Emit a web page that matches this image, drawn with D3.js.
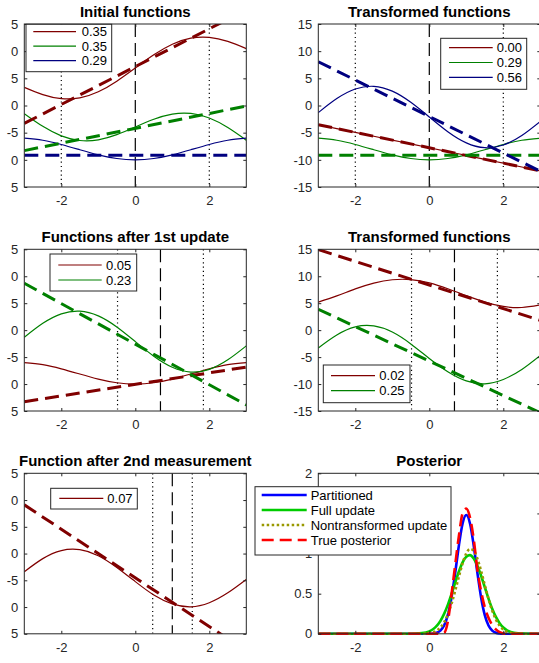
<!DOCTYPE html>
<html>
<head>
<meta charset="utf-8">
<script src="https://cdn.jsdelivr.net/npm/d3@7"></script>
<style>
body { margin: 0; background: #fff; }
svg { display: block; }
</style>
</head>
<body>
<script>
// sample grid for the function curves
var xGrid = [-3, -2.5, -2, -1.5, -1, -0.5, 0, 0.5, 1, 1.5, 2, 2.5, 3];
var lineX = [-3, 3];

// Initial functions
var initRed = [3.34, 2.01, 1.26, 1.41, 2.53, 4.48, 6.90, 9.32, 11.27, 12.39, 12.54, 11.79, 10.46];
var initGreen = [-1.51, -3.84, -5.59, -6.44, -6.32, -5.37, -3.95, -2.53, -1.58, -1.46, -2.31, -4.06, -6.39];
var initBlue = [-6.02, -6.40, -7.17, -8.14, -9.08, -9.76, -10.00, -9.76, -9.08, -8.14, -7.17, -6.40, -6.02];
var initRedLin = [-3.29, 17.6];
var initGreenLin = [-8.3, -0.1];
var initBlueLin = [-9.15, -9.15];
var initMean = 0;
var initBounds = [-2, 2];
var initLegend = ["0.35", "0.35", "0.29"];

// Transformed functions
var transRed = [-3.54, -4.25, -4.95, -5.66, -6.37, -7.07, -7.78, -8.49, -9.19, -9.90, -10.61, -11.32, -12.02];
var transGreen = [-6.02, -6.40, -7.17, -8.14, -9.08, -9.76, -10.00, -9.76, -9.08, -8.14, -7.17, -6.40, -6.02];
var transBlue = [-1.32, 1.27, 3.03, 3.53, 2.64, 0.59, -2.12, -4.83, -6.88, -7.77, -7.27, -5.51, -2.92];
var transRedLin = [-3.54, -12.02];
var transGreenLin = [-9.15, -9.15];
var transBlueLin = [8.05, -12.1];
var transLegend = ["0.00", "0.29", "0.56"];

// Functions after 1st update
var upd1Red = [-6.02, -6.40, -7.17, -8.14, -9.08, -9.76, -10.00, -9.76, -9.08, -8.14, -7.17, -6.40, -6.02];
var upd1Green = [-1.32, 1.27, 3.03, 3.53, 2.64, 0.59, -2.12, -4.83, -6.88, -7.77, -7.27, -5.51, -2.92];
var upd1RedLin = [-13.27, -6.85];
var upd1GreenLin = [8.69, -13.88];
var upd1Mean = 0.68;
var upd1Bounds = [-0.48, 1.84];
var upd1Legend = ["0.05", "0.23"];

// Transformed functions (after 1st update)
var trans1Red = [5.2, 6.35, 7.65, 8.72, 9.35, 9.38, 8.78, 7.68, 6.4, 5.2, 4.4, 4.2, 4.68];
var trans1Green = [-3.3, -0.9, 0.6, 0.78, -0.35, -2.55, -5.25, -7.7, -9.4, -9.95, -9.15, -7.3, -4.7];
var trans1RedLin = [14.95, 1.81];
var trans1GreenLin = [3.87, -15.33];
var trans1Legend = ["0.02", "0.25"];

// Function after 2nd measurement
var upd2Red = [-3.4, -0.95, 0.55, 0.72, -0.4, -2.6, -5.25, -7.75, -9.4, -9.95, -9.2, -7.35, -4.85];
var upd2RedLin = [9.1, -18.2];
var upd2Mean = 1.0;
var upd2Bounds = [0.47, 1.54];
var upd2Legend = ["0.07"];

// Posterior
var postX = [-3, -1, -0.5, -0.2, 0, 0.1, 0.2, 0.3, 0.4, 0.5, 0.6, 0.7, 0.8, 0.9, 1.0,
             1.1, 1.2, 1.3, 1.4, 1.5, 1.6, 1.7, 1.8, 1.9, 2.0, 2.1, 2.2, 2.4, 2.7, 3];
var postPartitioned = [0, 0, 0, 0, 0.001, 0.004, 0.013, 0.040, 0.103, 0.233, 0.453, 0.760, 1.101, 1.375, 1.48,
                       1.375, 1.101, 0.760, 0.453, 0.233, 0.103, 0.040, 0.013, 0.004, 0.001, 0, 0, 0, 0, 0];
var postFull = [0, 0, 0.001, 0.008, 0.030, 0.056, 0.098, 0.160, 0.248, 0.360, 0.494, 0.638, 0.776, 0.890, 0.961,
                0.98, 0.939, 0.849, 0.723, 0.580, 0.439, 0.312, 0.210, 0.133, 0.079, 0.044, 0.023, 0.006, 0, 0];
var postNontrans = [0, 0, 0, 0.001, 0.008, 0.019, 0.040, 0.079, 0.143, 0.241, 0.373, 0.537, 0.714, 0.879, 1.003,
                    1.058, 1.034, 0.935, 0.783, 0.607, 0.436, 0.289, 0.178, 0.101, 0.053, 0.026, 0.012, 0.002, 0, 0];
var postTrue = [0, 0, 0, 0, 0, 0, 0, 0, 0.01, 0.15, 0.49, 0.86, 1.22, 1.50, 1.56,
                1.45, 1.18, 0.80, 0.53, 0.33, 0.20, 0.11, 0.055, 0.02, 0.005, 0, 0, 0, 0, 0];
var postLegend = ["Partitioned", "Full update", "Nontransformed update", "True posterior"];

// ticks
var xTicks = [-2, 0, 2];
var funcYTicks = [-15, -10, -5, 0, 5, 10, 15];
var leftYTickLabels = ["5", "0", "-5", "0", "5", "0", "5"];
var rightYTickLabels = ["-15", "-10", "-5", "0", "5", "10", "15"];
var postYTicks = [0, 0.5, 1, 1.5, 2];
var postYTickLabels = ["0", "0.5", "1", "1.5", "2"];

var font = "'Liberation Sans', Arial, Helvetica, sans-serif";
var axisColor = "#262626";
var dkRed = "#800000", dkGreen = "#008000", dkBlue = "#000080";

var cols = [{ x: 24.3, w: 222 }, { x: 318.3, w: 222 }];
var rows = [{ y: 24, h: 163 }, { y: 249.3, h: 161.7 }, { y: 473.3, h: 160.5 }];

var svg = d3.select("body").append("svg")
    .attr("width", 539)
    .attr("height", 663)
    .style("font-family", font);

var drawAxes = function (g, x, y, yTicks, yLabels) {
    var left = x.range()[0], right = x.range()[1];
    var bottom = y.range()[0], top = y.range()[1];

    var axes = g.append("g");
    axes.append("g").attr("transform", "translate(" + left + ",0)")
        .call(d3.axisLeft(y).tickValues(yTicks).tickSize(-3).tickPadding(6)
            .tickFormat(function (d, i) { return yLabels[i]; }));
    axes.append("g").attr("transform", "translate(" + right + ",0)")
        .call(d3.axisRight(y).tickValues(yTicks).tickSize(-3).tickFormat(""));
    axes.append("g").attr("transform", "translate(0," + bottom + ")")
        .call(d3.axisBottom(x).tickValues(xTicks).tickSize(-3).tickPadding(9)
            .tickFormat(function (d) { return String(d); }));
    axes.append("g").attr("transform", "translate(0," + top + ")")
        .call(d3.axisTop(x).tickValues(xTicks).tickSize(-3).tickFormat(""));
    axes.selectAll(".domain").remove();
    axes.selectAll(".tick line").attr("stroke", axisColor);
    // d3 puts its own font on each axis group, so set it again here
    axes.selectAll("g").attr("font-family", font).attr("font-size", 13);
    axes.selectAll(".tick text").attr("fill", axisColor);

    axes.append("rect")
        .attr("x", left).attr("y", top)
        .attr("width", right - left).attr("height", bottom - top)
        .attr("fill", "none")
        .attr("stroke", axisColor)
        .attr("stroke-width", 1);
}

var drawTitle = function (x, y, text) {
    svg.append("text")
        .attr("x", (x.range()[0] + x.range()[1]) / 2)
        .attr("y", y.range()[1] - 7)
        .attr("text-anchor", "middle")
        .attr("font-size", 15)
        .attr("font-weight", "bold")
        .attr("fill", "#000")
        .text(text);
}

var drawLegend = function (lg) {
    var g = svg.append("g");
    g.append("rect")
        .attr("x", lg.x).attr("y", lg.y)
        .attr("width", lg.w).attr("height", lg.h)
        .attr("fill", "#fff")
        .attr("stroke", axisColor)
        .attr("stroke-width", 1);
    lg.items.forEach(function (item, i) {
        var yy = lg.y + lg.first + i * lg.step;
        g.append("line")
            .attr("x1", lg.x + lg.line[0]).attr("x2", lg.x + lg.line[1])
            .attr("y1", yy).attr("y2", yy)
            .attr("stroke", item.color)
            .attr("stroke-width", item.width || 1.2)
            .attr("stroke-dasharray", item.dash || null);
        g.append("text")
            .attr("x", lg.x + lg.textX)
            .attr("y", yy)
            .attr("dy", "0.35em")
            .attr("font-size", 13)
            .attr("fill", "#000")
            .text(item.label);
    });
}

var funcLine = function (x, y) {
    return d3.line()
        .x(function (d) { return x(d[0]); })
        .y(function (d) { return y(d[1]); })
        .curve(d3.curveNatural);
}

var drawFunctionPanel = function (cfg, idx) {
    var col = cols[cfg.col], row = rows[cfg.row];
    var x = d3.scaleLinear().domain([-3, 3]).range([col.x, col.x + col.w]);
    var y = d3.scaleLinear().domain([-15, 15]).range([row.y + row.h, row.y]);

    svg.append("clipPath").attr("id", "clip" + idx)
        .append("rect")
        .attr("x", col.x).attr("y", row.y)
        .attr("width", col.w).attr("height", row.h);

    var g = svg.append("g");
    var plot = g.append("g").attr("clip-path", "url(#clip" + idx + ")");

    // mean (dashed) and bounds (dotted)
    plot.append("line")
        .attr("x1", x(cfg.mean)).attr("x2", x(cfg.mean))
        .attr("y1", y(15)).attr("y2", y(-15))
        .attr("stroke", "#000").attr("stroke-width", 1.2)
        .attr("stroke-dasharray", "13,6");
    cfg.bounds.forEach(function (b) {
        plot.append("line")
            .attr("x1", x(b)).attr("x2", x(b))
            .attr("y1", y(15)).attr("y2", y(-15))
            .attr("stroke", "#000").attr("stroke-width", 1.2)
            .attr("stroke-dasharray", "1.2,3.1");
    });

    var line = funcLine(x, y);
    cfg.curves.forEach(function (c) {
        plot.append("path")
            .datum(xGrid.map(function (xv, i) { return [xv, c.values[i]]; }))
            .attr("d", line)
            .attr("fill", "none")
            .attr("stroke", c.color)
            .attr("stroke-width", 1.2);
    });
    cfg.lins.forEach(function (c) {
        plot.append("path")
            .datum(lineX.map(function (xv, i) { return [xv, c.values[i]]; }))
            .attr("d", d3.line().x(function (d) { return x(d[0]); }).y(function (d) { return y(d[1]); }))
            .attr("fill", "none")
            .attr("stroke", c.color)
            .attr("stroke-width", 3)
            .attr("stroke-dasharray", "14,7");
    });

    drawAxes(g, x, y, funcYTicks, cfg.col === 0 ? leftYTickLabels : rightYTickLabels);
    drawTitle(x, y, cfg.title);
}

var functionPanels = [
    {
        col: 0, row: 0, title: "Initial functions",
        curves: [{ values: initRed, color: dkRed }, { values: initGreen, color: dkGreen }, { values: initBlue, color: dkBlue }],
        lins: [{ values: initRedLin, color: dkRed }, { values: initGreenLin, color: dkGreen }, { values: initBlueLin, color: dkBlue }],
        mean: initMean, bounds: initBounds
    },
    {
        col: 1, row: 0, title: "Transformed functions",
        curves: [{ values: transRed, color: dkRed }, { values: transGreen, color: dkGreen }, { values: transBlue, color: dkBlue }],
        lins: [{ values: transRedLin, color: dkRed }, { values: transGreenLin, color: dkGreen }, { values: transBlueLin, color: dkBlue }],
        mean: initMean, bounds: initBounds
    },
    {
        col: 0, row: 1, title: "Functions after 1st update",
        curves: [{ values: upd1Red, color: dkRed }, { values: upd1Green, color: dkGreen }],
        lins: [{ values: upd1RedLin, color: dkRed }, { values: upd1GreenLin, color: dkGreen }],
        mean: upd1Mean, bounds: upd1Bounds
    },
    {
        col: 1, row: 1, title: "Transformed functions",
        curves: [{ values: trans1Red, color: dkRed }, { values: trans1Green, color: dkGreen }],
        lins: [{ values: trans1RedLin, color: dkRed }, { values: trans1GreenLin, color: dkGreen }],
        mean: upd1Mean, bounds: upd1Bounds
    },
    {
        col: 0, row: 2, title: "Function after 2nd measurement",
        curves: [{ values: upd2Red, color: dkRed }],
        lins: [{ values: upd2RedLin, color: dkRed }],
        mean: upd2Mean, bounds: upd2Bounds
    }
];

functionPanels.forEach(drawFunctionPanel);

// posterior panel
(function () {
    var col = cols[1], row = rows[2];
    var x = d3.scaleLinear().domain([-3, 3]).range([col.x, col.x + col.w]);
    var y = d3.scaleLinear().domain([0, 2]).range([row.y + row.h, row.y]);

    svg.append("clipPath").attr("id", "clipPost")
        .append("rect")
        .attr("x", col.x).attr("y", row.y - 2)
        .attr("width", col.w).attr("height", row.h + 4);

    var g = svg.append("g");
    var plot = g.append("g").attr("clip-path", "url(#clipPost)");
    var line = d3.line()
        .x(function (d) { return x(d[0]); })
        .y(function (d) { return y(d[1]); })
        .curve(d3.curveMonotoneX);

    var series = [
        { values: postPartitioned, color: "#0000ff", dash: null },
        { values: postFull, color: "#00cc00", dash: null },
        { values: postNontrans, color: "#999900", dash: "2.5,2.5" },
        { values: postTrue, color: "#ff0000", dash: "12,6" }
    ];
    series.forEach(function (s) {
        plot.append("path")
            .datum(postX.map(function (xv, i) { return [xv, s.values[i]]; }))
            .attr("d", line)
            .attr("fill", "none")
            .attr("stroke", s.color)
            .attr("stroke-width", 2.6)
            .attr("stroke-dasharray", s.dash);
    });

    drawAxes(g, x, y, postYTicks, postYTickLabels);
    drawTitle(x, y, "Posterior");

    drawLegend({
        x: 255, y: 486.7, w: 196, h: 68.3, first: 8.3, step: 15, line: [6.7, 51.7], textX: 55.7,
        items: postLegend.map(function (label, i) {
            return { label: label, color: series[i].color, dash: series[i].dash, width: 2.6 };
        })
    });
})();

// legends of the function panels
var legendItems = function (labels, colors) {
    return labels.map(function (label, i) { return { label: label, color: colors[i] }; });
}

drawLegend({ x: 26, y: 24.3, w: 85.7, h: 47.4, first: 7.4, step: 14.5, line: [7.3, 50], textX: 55.7,
    items: legendItems(initLegend, [dkRed, dkGreen, dkBlue]) });
drawLegend({ x: 440.7, y: 38.3, w: 86, h: 51, first: 9.4, step: 14.8, line: [8.3, 52], textX: 56,
    items: legendItems(transLegend, [dkRed, dkGreen, dkBlue]) });
drawLegend({ x: 50, y: 254, w: 86.7, h: 37, first: 11, step: 15, line: [8.3, 51.7], textX: 56,
    items: legendItems(upd1Legend, [dkRed, dkGreen]) });
drawLegend({ x: 323.3, y: 365, w: 86.7, h: 37.7, first: 10.7, step: 15, line: [7.7, 51.7], textX: 56,
    items: legendItems(trans1Legend, [dkRed, dkGreen]) });
drawLegend({ x: 50.7, y: 488.3, w: 86.6, h: 20.7, first: 10, step: 15, line: [8.6, 52.6], textX: 56.6,
    items: legendItems(upd2Legend, [dkRed]) });
</script>
</body>
</html>
